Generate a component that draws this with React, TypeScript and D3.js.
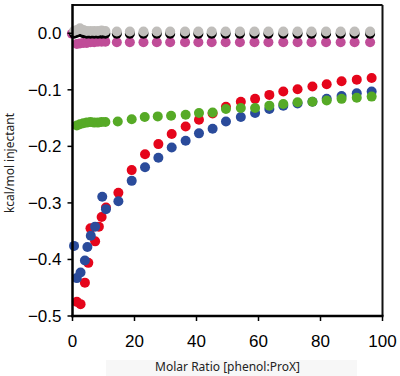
import React from "react";
import * as d3 from "d3";

const W = 400;
const H = 376;

const xTicks = [0, 20, 40, 60, 80, 100];
const yTicks = [0, -0.1, -0.2, -0.3, -0.4, -0.5];

const redX = [1.4, 2.6, 4.0, 5.1, 5.8, 7.3, 8.5, 9.4, 10.8, 14.8, 19.1, 23.4, 27.7, 32.0, 36.5, 40.8, 45.2, 49.5, 54.3, 58.9, 63.5, 68.0, 72.6, 77.4, 82.0, 86.8, 91.7, 96.5];
const redY = [-0.475, -0.479, -0.441, -0.406, -0.345, -0.368, -0.342, -0.325, -0.308, -0.282, -0.242, -0.214, -0.196, -0.178, -0.165, -0.153, -0.142, -0.130, -0.121, -0.116, -0.109, -0.103, -0.099, -0.094, -0.090, -0.085, -0.082, -0.079];

const blueX = [0.5, 1.4, 2.6, 4.0, 4.8, 5.9, 7.3, 9.6, 10.8, 14.8, 19.1, 23.4, 27.7, 32.0, 36.5, 40.8, 45.2, 49.5, 54.3, 58.9, 63.5, 68.0, 72.6, 77.4, 82.0, 86.8, 91.7, 96.5];
const blueY = [-0.376, -0.433, -0.423, -0.402, -0.378, -0.358, -0.342, -0.289, -0.311, -0.297, -0.261, -0.237, -0.220, -0.202, -0.190, -0.177, -0.169, -0.156, -0.148, -0.141, -0.134, -0.128, -0.124, -0.121, -0.116, -0.111, -0.106, -0.103];

const greenX = [1.4, 2.4, 3.5, 4.6, 5.8, 7.0, 8.2, 9.4, 10.6, 14.6, 19.1, 23.3, 27.5, 31.8, 36.5, 40.8, 45.2, 49.5, 54.3, 58.9, 63.5, 68.0, 72.6, 77.4, 82.0, 86.8, 91.7, 96.5];
const greenY = [-0.163, -0.161, -0.159, -0.158, -0.157, -0.158, -0.158, -0.157, -0.157, -0.156, -0.152, -0.148, -0.147, -0.146, -0.144, -0.141, -0.140, -0.134, -0.132, -0.132, -0.128, -0.125, -0.122, -0.121, -0.119, -0.116, -0.114, -0.112];

const flatX = [0.5, 1.4, 2.4, 3.5, 4.6, 5.8, 7.0, 8.2, 9.4, 10.6, 14.3, 18.5, 22.9, 27.2, 31.5, 36.3, 40.6, 44.9, 49.4, 54.0, 58.7, 63.2, 68.0, 72.6, 77.1, 81.8, 86.5, 91.0, 96.0];
const grayY = [0.004, 0.006, 0.009, 0.006, 0.004, 0.004, 0.004, 0.004, 0.005, 0.004, 0.003, 0.003, 0.003, 0.003, 0.003, 0.003, 0.003, 0.003, 0.003, 0.003, 0.003, 0.003, 0.003, 0.003, 0.003, 0.003, 0.003, 0.003, 0.003];
const blackY = [-0.001, 0.001, 0.003, 0.0, -0.001, -0.001, -0.001, -0.001, -0.001, -0.001, -0.001, -0.001, -0.001, -0.001, -0.001, -0.001, -0.001, -0.001, -0.001, -0.001, -0.001, -0.001, -0.001, -0.001, -0.001, -0.001, -0.001, -0.001, -0.001];

const pinkX = [-0.2, 1.4, 2.4, 3.5, 4.6, 5.8, 7.0, 8.2, 9.4, 10.6, 14.3, 18.5, 22.9, 27.2, 31.5, 36.3, 40.6, 44.9, 49.4, 54.0, 58.7, 63.2, 68.0, 72.6, 77.1, 81.8, 86.5, 91.0, 96.0];
const pinkY = [-0.001, -0.019, -0.018, -0.017, -0.017, -0.016, -0.016, -0.015, -0.015, -0.015, -0.016, -0.016, -0.016, -0.016, -0.016, -0.016, -0.016, -0.016, -0.016, -0.016, -0.016, -0.016, -0.016, -0.016, -0.016, -0.016, -0.016, -0.016, -0.016];

const series = [
  { name: "red", color: "#e5051b", xs: redX, ys: redY },
  { name: "blue", color: "#2a4b9b", xs: blueX, ys: blueY },
  { name: "green", color: "#56aa26", xs: greenX, ys: greenY },
  { name: "pink", color: "#c04d98", xs: pinkX, ys: pinkY },
  { name: "black", color: "#000000", xs: flatX, ys: blackY },
  { name: "gray", color: "#c0bebb", xs: flatX, ys: grayY },
];

const left = 72.5;
const right = 382.5;
const top = 5;
const bottom = 316;

export default function App() {
  const x = d3.scaleLinear().domain([0, 100]).range([left, right]);
  const y = d3.scaleLinear().domain([-0.5, 0.05]).range([bottom, top]);
  const fmt = d3.format(".1f");
  const tickFont = "'Liberation Sans', Arial, sans-serif";
  return (
    <svg width={W} height={H} style={{ position: "absolute", left: 0, top: 0, background: "#fff" }}>
      <rect x={106} y={360} width={251} height={16} fill="#f7f7f7" />
      {series.map((s) => (
        <g key={s.name}>
          {s.xs.map((v, i) => (
            <circle key={i} cx={x(v)} cy={y(s.ys[i])} r={5} fill={s.color} />
          ))}
        </g>
      ))}
      <line x1={left} x2={right} y1={top} y2={top} stroke="#111" strokeWidth={2} />
      <line x1={right} x2={right} y1={top} y2={bottom} stroke="#111" strokeWidth={2} />
      <line x1={left} x2={left} y1={top - 1} y2={bottom + 1.25} stroke="#000" strokeWidth={2.5} />
      <line x1={left - 1.25} x2={right + 1} y1={bottom} y2={bottom} stroke="#000" strokeWidth={2.5} />
      {yTicks.map((t) => (
        <g key={t}>
          <line x1={left - 5} x2={left} y1={y(t)} y2={y(t)} stroke="#000" strokeWidth={1.5} />
          <text x={left - 11} y={y(t)} dy="0.35em" textAnchor="end" fontSize={17} fontFamily={tickFont} fill="#000">
            {fmt(t)}
          </text>
        </g>
      ))}
      {xTicks.map((t) => (
        <g key={t}>
          <line x1={x(t)} x2={x(t)} y1={bottom} y2={bottom + 5} stroke="#000" strokeWidth={1.5} />
          <text x={x(t)} y={346.5} textAnchor="middle" fontSize={17} fontFamily={tickFont} fill="#000">
            {t}
          </text>
        </g>
      ))}
      <text x={227.5} y={371} textAnchor="middle" fontSize={12} fontFamily="'Noto Sans', sans-serif" fill="#222">
        Molar Ratio [phenol:ProX]
      </text>
      <text
        transform={`translate(14, 163) rotate(-90)`}
        textAnchor="middle"
        fontSize={12}
        fontFamily="'Noto Sans', sans-serif"
        fill="#222"
      >
        kcal/mol injectant
      </text>
    </svg>
  );
}
